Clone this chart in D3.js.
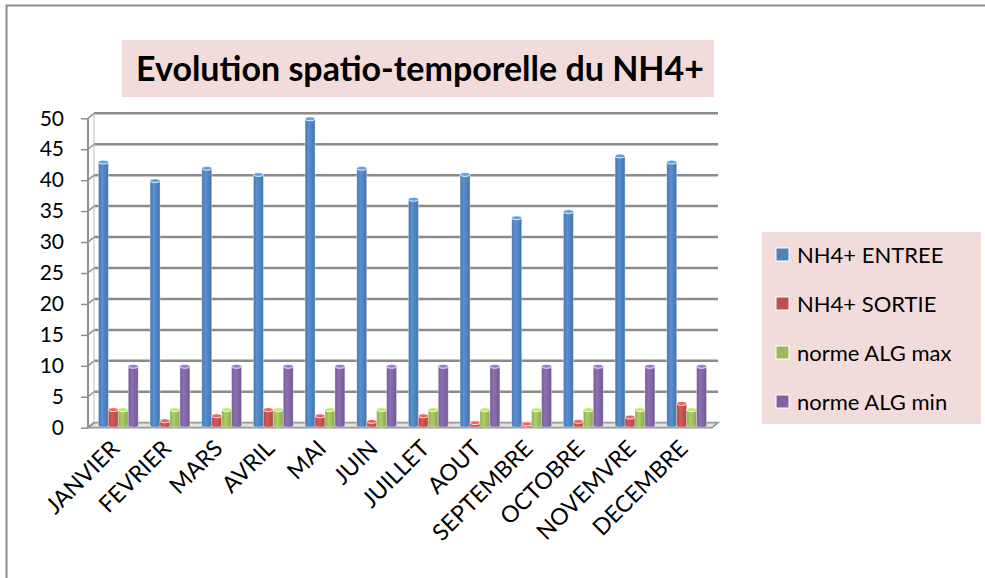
<!DOCTYPE html>
<html>
<head>
<meta charset="utf-8">
<script src="https://cdn.jsdelivr.net/npm/d3@7"></script>
<style>
  body { margin: 0; background: #fff; }
  svg { display: block; font-family: "Lato", "Liberation Sans", sans-serif; }
</style>
</head>
<body>
<div id="chart"></div>
<script>
const months = ["JANVIER", "FEVRIER", "MARS", "AVRIL", "MAI", "JUIN", "JUILLET",
    "AOUT", "SEPTEMBRE", "OCTOBRE", "NOVEMVRE", "DECEMBRE"];
const seriesNames = ["NH4+ ENTREE", "NH4+ SORTIE", "norme ALG max", "norme ALG min"];
const nh4Entree = [43, 40, 42, 41, 50, 42, 37, 41, 34, 35, 44, 43];
const nh4Sortie = [3, 1.2, 2, 3, 2, 1.1, 2, 0.9, 0.7, 1.1, 1.8, 4];
const normeMax = [3, 3, 3, 3, 3, 3, 3, 3, 3, 3, 3, 3];
const normeMin = [10, 10, 10, 10, 10, 10, 10, 10, 10, 10, 10, 10];
const yTicks = [0, 5, 10, 15, 20, 25, 30, 35, 40, 45, 50];
const colors = ["#4f81bd", "#c0504d", "#9bbb59", "#8064a2"];

const width = 985;
const height = 578;
const depth = { dx: 6, dy: -5 };   // 3d offset of the back wall

const seriesValues = [nh4Entree, nh4Sortie, normeMax, normeMin];

const svg = d3.select("#chart")
    .append("svg")
    .attr("width", width)
    .attr("height", height);

// chart frame (only left and top edges are inside the picture)
svg.append("rect")
    .attr("x", 6.5).attr("y", 5.5)
    .attr("width", 1000).attr("height", 600)
    .attr("fill", "none")
    .attr("stroke", "#8c8c8c")
    .attr("stroke-width", 2);

const x = d3.scaleBand()
    .domain(months)
    .range([92, 712])
    .paddingInner(0.23)
    .paddingOuter(0.115);

const xSub = d3.scaleBand()
    .domain(seriesNames)
    .range([0, x.bandwidth()]);

const y = d3.scaleLinear()
    .domain([0, 50])
    .range([427.7, 118.3]);

// gradients for the cylinders
const defs = svg.append("defs");
colors.forEach((c, i) => {
    const g = defs.append("linearGradient")
        .attr("id", "cyl" + i)
        .attr("x1", "0%").attr("x2", "100%");
    const base = d3.color(c);
    g.append("stop").attr("offset", "0%").attr("stop-color", base.darker(0.3));
    g.append("stop").attr("offset", "35%").attr("stop-color", base.brighter(0.3));
    g.append("stop").attr("offset", "70%").attr("stop-color", base);
    g.append("stop").attr("offset", "100%").attr("stop-color", base.darker(0.35));
});

// floor
const floorL = x.range()[0] - 4;
const floorR = x.range()[1];
svg.append("path")
    .attr("d", `M${floorL},${y(0)} L${floorR},${y(0)} L${floorR + depth.dx},${y(0) + depth.dy}
        L${floorL + depth.dx},${y(0) + depth.dy} Z`)
    .attr("fill", "#e3e3e3")
    .attr("stroke", "#999")
    .attr("stroke-width", 1.8);

// back wall gridlines + side wall diagonals
const grid = svg.append("g");
yTicks.forEach(t => {
    if (t > 0) {
        grid.append("line")
            .attr("x1", floorL + depth.dx).attr("x2", floorR + depth.dx)
            .attr("y1", y(t) + depth.dy).attr("y2", y(t) + depth.dy)
            .attr("stroke", "#8a8a8a")
            .attr("stroke-width", 2.5);
    }
    grid.append("line")
        .attr("x1", floorL).attr("x2", floorL + depth.dx)
        .attr("y1", y(t)).attr("y2", y(t) + depth.dy)
        .attr("stroke", "#8f8f8f")
        .attr("stroke-width", 1.5);
});

// left wall edge and ticks
svg.append("line")
    .attr("x1", floorL).attr("x2", floorL)
    .attr("y1", y(50)).attr("y2", y(0))
    .attr("stroke", "#8f8f8f")
    .attr("stroke-width", 2);
svg.append("line")
    .attr("x1", floorL + depth.dx).attr("x2", floorL + depth.dx)
    .attr("y1", y(50) + depth.dy).attr("y2", y(0) + depth.dy)
    .attr("stroke", "#bdbdbd")
    .attr("stroke-width", 1);

const yAxis = svg.append("g")
    .attr("transform", `translate(${floorL},0)`)
    .call(d3.axisLeft(y).tickValues(yTicks).tickSize(7).tickPadding(17));
yAxis.select(".domain").remove();
yAxis.selectAll(".tick line").attr("stroke", "#8f8f8f").attr("stroke-width", 1.5);
yAxis.selectAll(".tick text")
    .attr("fill", "#000")
    .style("font-size", "21px")
    .style("font-family", "Lato, sans-serif");

// bars as cylinders
const baseY = y(0) + depth.dy / 2;
const bars = svg.append("g");
months.forEach((m, mi) => {
    seriesNames.forEach((s, si) => {
        const v = seriesValues[si][mi];
        const bx = x(m) + xSub(s) + depth.dx / 2 - 2.5;
        const bw = xSub.bandwidth();
        const top = y(v) + 0.5;
        const rx = bw / 2;
        const ry = 2;
        const c = d3.color(colors[si]);
        bars.append("path")
            .attr("d", `M${bx},${top} L${bx},${baseY} A${rx},${ry} 0 0 0 ${bx + bw},${baseY}
                L${bx + bw},${top} Z`)
            .attr("fill", `url(#cyl${si})`)
            .attr("stroke", "rgba(255,255,255,0.6)")
            .attr("stroke-width", 0.6);
        bars.append("ellipse")
            .attr("cx", bx + rx).attr("cy", top)
            .attr("rx", rx).attr("ry", ry)
            .attr("fill", c.brighter(0.6))
            .attr("stroke", "#fff")
            .attr("stroke-width", 0.8);
    });
});

// category labels
svg.append("g")
    .selectAll("text")
    .data(months)
    .join("text")
    .attr("transform", d => `translate(${x(d) + x.bandwidth() / 2 + 3},${450}) rotate(-45)`)
    .attr("text-anchor", "end")
    .style("font-size", "23px")
    .attr("fill", "#000")
    .text(d => d);

// title
svg.append("rect")
    .attr("x", 122).attr("y", 40)
    .attr("width", 592).attr("height", 57)
    .attr("fill", "#f2dcdb");
svg.append("text")
    .attr("x", 420).attr("y", 81)
    .attr("text-anchor", "middle")
    .style("font-size", "34px")
    .style("font-weight", "bold")
    .attr("fill", "#000")
    .text("Evolution spatio-temporelle du NH4+");

// legend
const legend = svg.append("g");
legend.append("rect")
    .attr("x", 762).attr("y", 232)
    .attr("width", 219).attr("height", 192)
    .attr("fill", "#f2dcdb");
const item = legend.selectAll("g.item")
    .data(seriesNames)
    .join("g")
    .attr("class", "item")
    .attr("transform", (d, i) => `translate(776,${255 + i * 49})`);
item.append("rect")
    .attr("x", 0).attr("y", -7)
    .attr("width", 13).attr("height", 13)
    .attr("fill", (d, i) => colors[i])
    .attr("stroke", "#fff")
    .attr("stroke-width", 1);
item.append("text")
    .attr("x", 21).attr("y", 0)
    .attr("dy", "0.35em")
    .style("font-size", "22px")
    .attr("fill", "#000")
    .text(d => d);
</script>
</body>
</html>
